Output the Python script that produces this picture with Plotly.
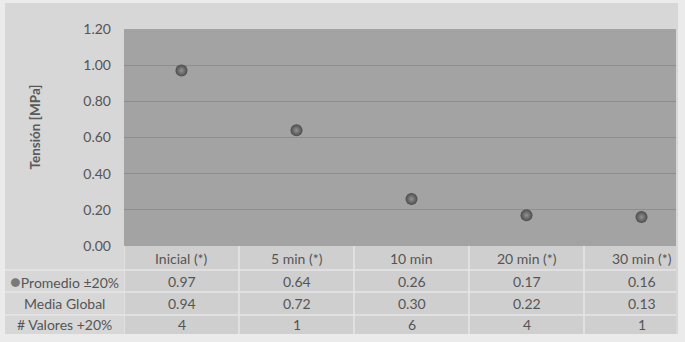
import plotly.graph_objects as go

categories = ["Inicial (*)", "5 min (*)", "10 min", "20 min (*)", "30 min (*)"]
promedio = [0.97, 0.64, 0.26, 0.17, 0.16]
media_global = [0.94, 0.72, 0.30, 0.22, 0.13]
n_valores = [4, 1, 6, 4, 1]
row_labels = ["Promedio ±20%", "Media Global", "# Valores +20%"]
y_ticks = [0, 0.2, 0.4, 0.6, 0.8, 1.0, 1.2]

FONT = "Lato"
TXT = "#555555"

# table geometry (paper coords, relative to plot area)
row_bounds = [0.0, -0.1106, -0.2120, -0.3180, -0.4055]
label_x0 = -0.2156

fig = go.Figure()
fig.add_trace(go.Scatter(
    x=categories, y=promedio, mode="markers",
    marker=dict(size=12, color="#4c4c4c",
                gradient=dict(type="radial", color="#929292"),
                line=dict(width=0)),
    showlegend=False, hoverinfo="x+y"))

shapes = []
# outer chart background
shapes.append(dict(type="rect", xref="paper", yref="paper", x0=label_x0, x1=1.0036,
                   y0=-0.4055, y1=1.1198, fillcolor="#d7d7d7", line=dict(width=0), layer="below"))
# plot area background
shapes.append(dict(type="rect", xref="paper", yref="paper", x0=0, x1=1, y0=0, y1=1,
                   fillcolor="#a3a3a3", line=dict(width=0), layer="below"))
# table cell background (category columns)
shapes.append(dict(type="rect", xref="x", yref="paper", x0=-0.5, x1=len(categories) - 0.5,
                   y0=row_bounds[-1], y1=0, fillcolor="#cfcfcf", line=dict(width=0), layer="below"))
# horizontal row lines
for yb in row_bounds[1:-1]:
    shapes.append(dict(type="line", xref="paper", yref="paper", x0=label_x0, x1=1,
                       y0=yb, y1=yb, line=dict(color="#e6e6e6", width=1.5)))
# vertical column lines
for i in range(len(categories)):
    shapes.append(dict(type="line", xref="x", yref="paper", x0=i - 0.5, x1=i - 0.5,
                       y0=row_bounds[-1], y1=0, line=dict(color="#e6e6e6", width=1.5)))

annotations = []
row_centers = [(row_bounds[k] + row_bounds[k + 1]) / 2 for k in range(4)]
common = dict(showarrow=False, xanchor="center", yanchor="middle", yref="paper")
for i, c in enumerate(categories):
    annotations.append(dict(x=c, xref="x", y=row_centers[0], text=c,
                            font=dict(size=14, color=TXT, family=FONT), **common))
    for k, vals in enumerate([promedio, media_global]):
        annotations.append(dict(x=c, xref="x", y=row_centers[k + 1],
                                text=f"{vals[i]:.2f}",
                                font=dict(size=14, color=TXT, family=FONT), **common))
    annotations.append(dict(x=c, xref="x", y=row_centers[3],
                            text=str(n_valores[i]),
                            font=dict(size=14, color=TXT, family=FONT), **common))
for k, lab in enumerate(row_labels):
    txt = lab
    if k == 0:
        txt = '<span style="color:#7a7a7a;font-size:18px">●</span>' + lab
    annotations.append(dict(x=-0.107, xref="paper", y=row_centers[k + 1],
                            text=txt, font=dict(size=14, color=TXT, family=FONT), **common))
annotations.append(dict(x=-0.163, xref="paper", y=0.546, text="<b>Tensión [MPa]</b>",
                        textangle=-90, font=dict(size=13.5, color="#5a5a5a", family=FONT),
                        **common))

fig.update_layout(
    width=685, height=342,
    margin=dict(l=124, r=9, t=29, b=96),
    paper_bgcolor="#ebebeb",
    plot_bgcolor="#a3a3a3",
    shapes=shapes,
    annotations=annotations,
    xaxis=dict(type="category", range=[-0.5, 4.3], showticklabels=False,
               showgrid=False, zeroline=False, showline=False, ticks=""),
    yaxis=dict(range=[0, 1.2], tickvals=y_ticks, tickformat=".2f",
               showgrid=True, gridcolor="#8d8d8d", gridwidth=1, zeroline=False,
               showline=False, ticks="", ticklabelstandoff=12,
               tickfont=dict(size=14, color=TXT, family=FONT)),
)

fig.write_html("out.html")
